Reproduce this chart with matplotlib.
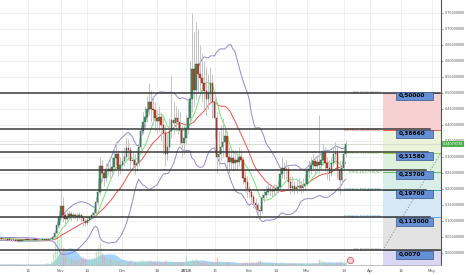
import numpy as np
import pandas as pd
import matplotlib
matplotlib.use('Agg')
import matplotlib.pyplot as plt
import matplotlib.transforms as mtrans
from matplotlib.patches import Rectangle

# closes of late Sep 2017, only used to warm up the indicators (off screen)
sep_close = [0.048, 0.046, 0.050, 0.045, 0.043, 0.040, 0.038, 0.041, 0.044, 0.047,
             0.045, 0.042, 0.040, 0.039, 0.042, 0.044, 0.046, 0.045, 0.044, 0.046]

# daily candles, 1 Oct 2017 .. 20 Mar 2018
close = [
    # Oct
    0.045, 0.044, 0.043, 0.042, 0.042, 0.041, 0.040, 0.039, 0.040, 0.038,
    0.037, 0.038, 0.039, 0.040, 0.041, 0.040, 0.039, 0.040, 0.041, 0.040,
    0.039, 0.040, 0.041, 0.042, 0.041, 0.042, 0.043, 0.048, 0.062, 0.088,
    0.112,
    # Nov
    0.145, 0.118, 0.105, 0.112, 0.120, 0.114, 0.118, 0.116, 0.112, 0.118,
    0.110, 0.098, 0.094, 0.102, 0.108, 0.118, 0.125, 0.160, 0.190, 0.272,
    0.248, 0.232, 0.256, 0.262, 0.255, 0.268, 0.295, 0.310, 0.262, 0.275,
    # Dec
    0.287, 0.300, 0.328, 0.320, 0.287, 0.290, 0.275, 0.280, 0.330, 0.380,
    0.410, 0.425, 0.450, 0.470, 0.450, 0.445, 0.420, 0.412, 0.425, 0.400,
    0.375, 0.310, 0.330, 0.380, 0.415, 0.405, 0.420, 0.410, 0.385, 0.344,
    0.360,
    # Jan
    0.390, 0.420, 0.480, 0.575, 0.510, 0.590, 0.560, 0.547, 0.530, 0.506,
    0.480, 0.500, 0.530, 0.470, 0.420, 0.300, 0.310, 0.330, 0.345, 0.365,
    0.300, 0.285, 0.295, 0.280, 0.290, 0.285, 0.300, 0.290, 0.234, 0.220,
    0.200,
    # Feb
    0.190, 0.175, 0.155, 0.150, 0.135, 0.131, 0.172, 0.180, 0.190, 0.200,
    0.195, 0.192, 0.198, 0.195, 0.205, 0.245, 0.265, 0.258, 0.262, 0.220,
    0.203, 0.210, 0.200, 0.205, 0.210, 0.202, 0.208, 0.215,
    # Mar
    0.256, 0.262, 0.275, 0.287, 0.270, 0.285, 0.275, 0.290, 0.312, 0.280,
    0.265, 0.250, 0.280, 0.310, 0.312, 0.260, 0.228, 0.265, 0.310, 0.341,
]

high = [
    0.048, 0.047, 0.046, 0.045, 0.044, 0.044, 0.043, 0.042, 0.042, 0.041,
    0.040, 0.040, 0.041, 0.042, 0.043, 0.043, 0.042, 0.042, 0.043, 0.043,
    0.042, 0.042, 0.043, 0.044, 0.044, 0.044, 0.046, 0.052, 0.070, 0.100,
    0.130,
    0.200, 0.175, 0.135, 0.128, 0.135, 0.130, 0.128, 0.125, 0.124, 0.126,
    0.122, 0.115, 0.105, 0.112, 0.118, 0.128, 0.140, 0.175, 0.235, 0.300,
    0.290, 0.262, 0.280, 0.285, 0.295, 0.300, 0.330, 0.345, 0.320, 0.300,
    0.320, 0.330, 0.360, 0.355, 0.330, 0.315, 0.310, 0.320, 0.360, 0.400,
    0.440, 0.460, 0.490, 0.530, 0.510, 0.490, 0.470, 0.450, 0.460, 0.440,
    0.420, 0.400, 0.370, 0.420, 0.555, 0.470, 0.460, 0.450, 0.440, 0.400,
    0.400,
    0.430, 0.470, 0.600, 0.750, 0.690, 0.720, 0.700, 0.650, 0.620, 0.600,
    0.580, 0.560, 0.580, 0.560, 0.500, 0.440, 0.380, 0.400, 0.420, 0.400,
    0.380, 0.330, 0.330, 0.320, 0.320, 0.310, 0.330, 0.320, 0.300, 0.260,
    0.240,
    0.210, 0.200, 0.185, 0.170, 0.160, 0.150, 0.185, 0.200, 0.210, 0.220,
    0.215, 0.212, 0.215, 0.215, 0.225, 0.270, 0.300, 0.285, 0.290, 0.270,
    0.240, 0.240, 0.225, 0.230, 0.235, 0.228, 0.232, 0.245,
    0.270, 0.290, 0.300, 0.310, 0.300, 0.305, 0.430, 0.320, 0.340, 0.330,
    0.300, 0.290, 0.300, 0.330, 0.345, 0.330, 0.290, 0.290, 0.330, 0.352,
]

low = [
    0.043, 0.042, 0.041, 0.040, 0.040, 0.039, 0.038, 0.037, 0.037, 0.036,
    0.035, 0.035, 0.036, 0.037, 0.038, 0.038, 0.037, 0.037, 0.038, 0.038,
    0.037, 0.037, 0.038, 0.039, 0.039, 0.039, 0.040, 0.042, 0.046, 0.058,
    0.080,
    0.105, 0.095, 0.085, 0.098, 0.105, 0.100, 0.105, 0.104, 0.100, 0.104,
    0.095, 0.085, 0.082, 0.088, 0.096, 0.104, 0.112, 0.120, 0.150, 0.180,
    0.225, 0.210, 0.220, 0.240, 0.235, 0.240, 0.255, 0.275, 0.240, 0.245,
    0.255, 0.270, 0.290, 0.290, 0.260, 0.255, 0.245, 0.255, 0.270, 0.320,
    0.370, 0.390, 0.410, 0.430, 0.410, 0.400, 0.380, 0.370, 0.380, 0.350,
    0.310, 0.270, 0.290, 0.320, 0.360, 0.370, 0.380, 0.370, 0.340, 0.300,
    0.310,
    0.340, 0.370, 0.400, 0.440, 0.460, 0.480, 0.500, 0.490, 0.470, 0.450,
    0.430, 0.450, 0.470, 0.420, 0.360, 0.250, 0.270, 0.290, 0.300, 0.310,
    0.260, 0.250, 0.260, 0.255, 0.260, 0.260, 0.270, 0.260, 0.215, 0.190,
    0.175,
    0.170, 0.160, 0.140, 0.130, 0.115, 0.105, 0.125, 0.160, 0.170, 0.180,
    0.178, 0.175, 0.180, 0.180, 0.188, 0.200, 0.235, 0.230, 0.230, 0.195,
    0.185, 0.190, 0.185, 0.188, 0.192, 0.186, 0.190, 0.195,
    0.210, 0.235, 0.245, 0.255, 0.250, 0.255, 0.250, 0.260, 0.275, 0.255,
    0.230, 0.225, 0.240, 0.270, 0.280, 0.230, 0.185, 0.215, 0.255, 0.300,
]

volume = [
    1, 1, 1, 1, 1, 1, 1, 1, 1, 1, 1, 1, 1, 1, 1, 1, 1, 1, 1, 1,
    1, 1, 1, 1, 2, 2, 4, 12, 24, 30, 26,
    32, 18, 10, 8, 7, 6, 6, 5, 5, 6, 7, 8, 6, 5, 6, 7, 8, 14, 18, 22,
    12, 9, 8, 7, 6, 6, 5, 5, 4, 4,
    4, 4, 3, 3, 5, 4, 3, 3, 4, 5, 5, 4, 4, 5, 4, 3, 3, 3, 4, 3,
    3, 5, 4, 3, 4, 3, 3, 3, 3, 4, 3,
    10, 4, 5, 6, 5, 6, 4, 3, 3, 3, 3, 3, 3, 3, 3, 8, 4, 3, 3, 3,
    3, 2, 2, 2, 2, 2, 2, 2, 3, 3, 3,
    3, 3, 3, 3, 4, 5, 3, 2, 2, 2, 2, 2, 2, 2, 2, 3, 3, 2, 2, 2,
    2, 2, 2, 2, 2, 2, 2, 2,
    2, 2, 2, 3, 2, 2, 6, 5, 4, 3, 2, 2, 2, 2, 2, 3, 4, 3, 3, 4,
]

last_price = 0.34079730

# user drawn horizontal levels and their price tags
levels = [0.5, 0.3866, 0.3158, 0.257, 0.197, 0.113, 0.007]
level_ends = ['2018-05-05', '2018-04-30', '2018-04-29', '2018-04-28', '2018-04-28', '2018-04-30', '2018-05-05']
tag_texts = ['0,50000', '0,38660', '0,31580', '0,25700', '0,19700', '0,113000', '0,0070']
tag_vals = [0.491, 0.3725, 0.302, 0.243, 0.184, 0.096, -0.007]

# fibonacci retracement anchors
fib_x = ['2018-04-07', '2018-05-23']
fib_y = [0.00694, 0.50054]
fib_ratios = [0, 0.236, 0.382, 0.5, 0.618, 0.786, 1, 1.618]
fib_line_col = ['#909090', '#f44336', '#8bc34a', '#4caf50', '#26a69a', '#42a5f5', '#909090', '#7e57c2']
fib_zone_col = ['#f6d0d0', '#ebf4da', '#ddf1dd', '#d7efe8', '#d6e8f6', '#e3e3e3', '#dad6f3']

tick_dates = ['2017-10-16', '2017-11-01', '2017-11-14', '2017-12-01', '2017-12-18', '2018-01-01',
              '2018-01-15', '2018-02-01', '2018-02-14', '2018-03-01', '2018-03-19', '2018-04-01',
              '2018-04-16', '2018-05-01']
tick_labels = ['16', 'Nov', '14', 'Dec', '18', '2018', '15', 'Feb', '14', 'Mar', '19', 'Apr', '16', 'May']

# --- data prep ---
start = pd.Timestamp('2017-10-01')
dates = pd.date_range(start, periods=len(close), freq='D')
c = np.array(close)
o = np.concatenate([[sep_close[-1]], c[:-1]])
h = np.array(high)
l = np.array(low)
up = c >= o

s = pd.Series(sep_close + close)
basis = s.rolling(20).mean()
dev = s.rolling(20).std(ddof=0)
upper = (basis + 2 * dev).values[len(sep_close):]
lower = (basis - 2 * dev).values[len(sep_close):]
basis = basis.values[len(sep_close):]
fast = s.rolling(9).mean().values[len(sep_close):]

vol = pd.Series(volume, dtype=float)
vol_area = vol.rolling(10, min_periods=1).mean()

# --- figure ---
fig = plt.figure(figsize=(4.66, 2.75), dpi=100)
ax = fig.add_axes([0, 10 / 275, 441 / 466, 265 / 275])
ax.set_xlim(start + pd.Timedelta(days=1.34), start + pd.Timedelta(days=216.5))
ax.set_ylim(-0.0384, 0.7897)
ax.set_axisbelow(True)
ax.grid(True, color='#eeeeee', lw=0.6)

# fib zones and lines
x0 = pd.Timestamp(fib_x[0])
x_end = start + pd.Timedelta(days=220)
fib_prices = [fib_y[1] - r * (fib_y[1] - fib_y[0]) for r in fib_ratios]
for i in range(len(fib_prices) - 1):
    ax.fill_between([x0, x_end], fib_prices[i], fib_prices[i + 1], color=fib_zone_col[i], lw=0, zorder=1)
for r, p, col in zip(fib_ratios[:-1], fib_prices[:-1], fib_line_col[:-1]):
    ax.plot([x0, x_end], [p, p], color=col, lw=0.6, zorder=1.2)
    ax.text(x0 - pd.Timedelta(days=0.5), p, f'{r:g}({p:.8f})', fontsize=2.8, color=col,
            ha='right', va='center', zorder=1.3)
ax.plot(pd.to_datetime(fib_x), fib_y, color='#9e9e9e', lw=0.7, ls=(0, (1.5, 1.5)), zorder=1.3)

# last price line
ax.axhline(last_price, color='#d5dcd5', lw=0.8, zorder=1.4)

# volume at the bottom
vtr = ax.get_xaxis_transform()
ax.fill_between(dates, 0, vol_area / 265, transform=vtr, color='#90caf9', alpha=0.8, lw=0, zorder=1.5)
ax.vlines(dates, 0, vol / 265, transform=vtr, colors=np.where(up, '#a5d6a7', '#ef9a9a'),
          lw=1.0, alpha=0.6, zorder=1.6)

# indicators
ax.plot(dates, upper, color='#8f8ad0', lw=0.7, zorder=2)
ax.plot(dates, lower, color='#8f8ad0', lw=0.7, zorder=2)
ax.plot(dates, basis, color='#ef5350', lw=0.7, zorder=2)
ax.plot(dates, fast, color='#6ee86e', lw=0.7, zorder=2)

# candles
ax.vlines(dates, l, h, color='#c4c4c4', lw=0.7, zorder=2.2)
body_lo = np.minimum(o, c)
body_h = np.maximum(np.abs(c - o), 0.002)
ax.bar(dates, body_h, bottom=body_lo, width=0.75, color=np.where(up, '#3f9163', '#c7402f'),
       edgecolor=np.where(up, '#2a6645', '#8e2a1f'), lw=0.3, zorder=2.5)

# horizontal levels and price tags
for lv, end in zip(levels, level_ends):
    ax.plot([start, pd.Timestamp(end)], [lv, lv], color='#3a3a3a', lw=1.1, zorder=4)
tag_x0 = pd.Timestamp('2018-04-13 12:00')
for txt, v in zip(tag_texts, tag_vals):
    ax.add_patch(Rectangle((tag_x0, v - 0.0125), pd.Timedelta(days=18.3), 0.025,
                           facecolor='#6690d5', edgecolor='#34558c', lw=0.5, zorder=5))
    ax.text(tag_x0 + pd.Timedelta(days=1.2), v, txt, fontsize=4.2, fontweight='bold',
            color='black', ha='left', va='center', zorder=6)

# news icon
ax.plot([start + pd.Timedelta(days=172)], [0.02], transform=vtr, marker='o', ms=4.5,
        mfc='#f7cdd6', mec='#e35d6a', mew=0.6, zorder=6, clip_on=False)

# axes styling
yt = np.arange(0, 0.76, 0.05)
ax.set_yticks(yt)
ax.set_yticklabels([f'{v:.8f}' for v in yt])
ax.yaxis.tick_right()
ax.tick_params(axis='y', labelsize=2.4, colors='#555555', length=1.5, width=0.4, pad=1)
ax.set_xticks(pd.to_datetime(tick_dates))
ax.set_xticklabels(tick_labels)
ax.tick_params(axis='x', labelsize=2.8, colors='#555555', length=0, pad=3)
for lab in ax.get_xticklabels():
    if lab.get_text() == '2018':
        lab.set_fontweight('bold')
for sp in ['top', 'left']:
    ax.spines[sp].set_visible(False)
ax.spines['right'].set_color('#555555')
ax.spines['right'].set_linewidth(0.8)
ax.spines['bottom'].set_color('#aaaaaa')
ax.spines['bottom'].set_linewidth(0.5)

price_tr = mtrans.blended_transform_factory(ax.transAxes, ax.transData)
ax.text(1.004, last_price, f'{last_price:.8f}', transform=price_tr, fontsize=2.4, color='white',
        ha='left', va='center', clip_on=False, zorder=7,
        bbox=dict(facecolor='#4caf50', edgecolor='none', pad=0.8))

fig.savefig('out.png', dpi=100)
